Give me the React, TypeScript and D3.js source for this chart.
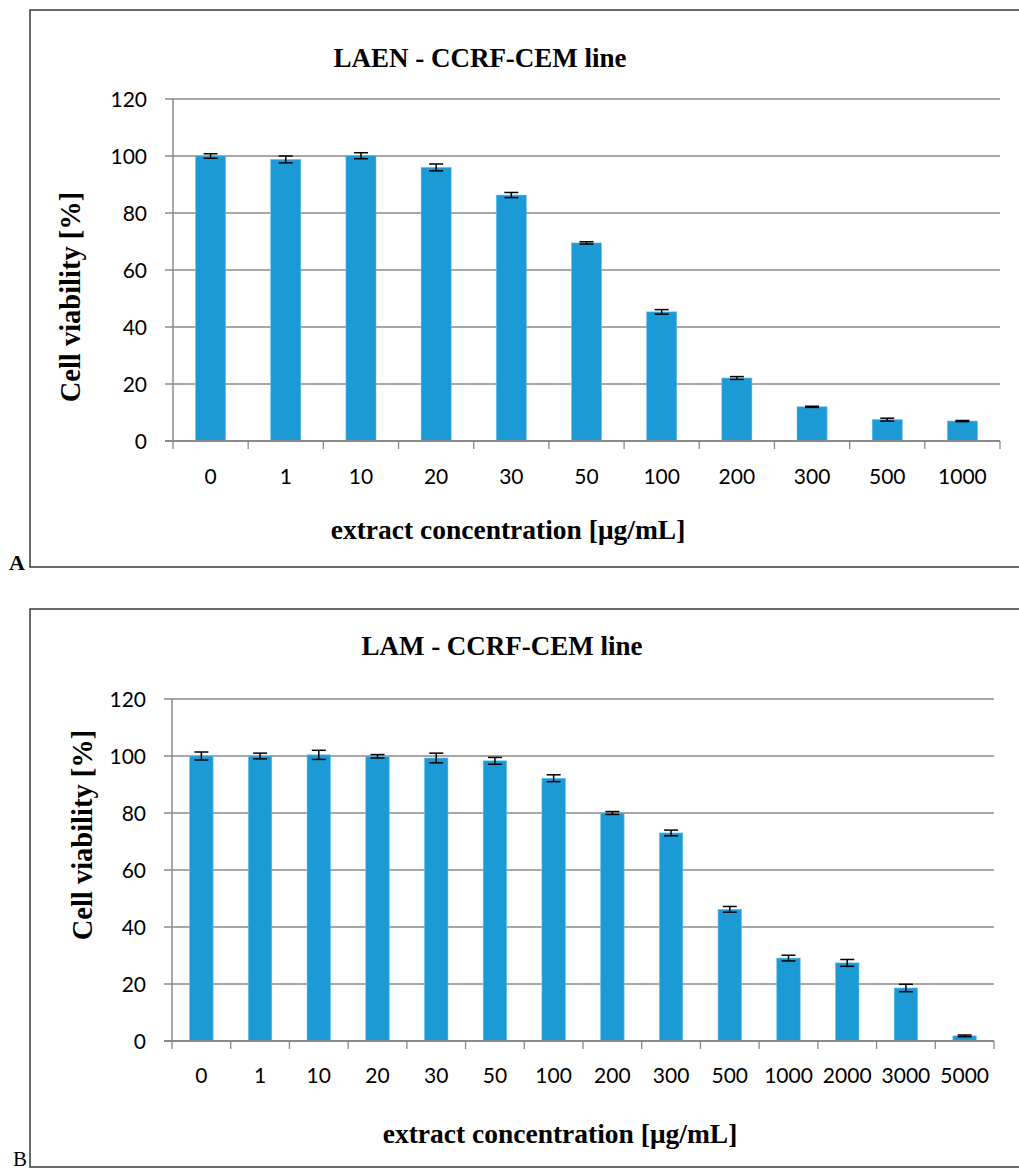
import React from "react";
import * as d3 from "d3";

const catsA = ["0", "1", "10", "20", "30", "50", "100", "200", "300", "500", "1000"];
const valsA = [100, 98.8, 100.1, 96.0, 86.3, 69.5, 45.3, 22.1, 12.0, 7.5, 7.0];
const errsA = [0.8, 1.2, 1.05, 1.2, 0.9, 0.4, 0.8, 0.5, 0.2, 0.5, 0.2];

const catsB = ["0", "1", "10", "20", "30", "50", "100", "200", "300", "500", "1000", "2000", "3000", "5000"];
const valsB = [100, 100, 100.4, 99.9, 99.3, 98.3, 92.2, 80.0, 73.0, 46.2, 29.1, 27.4, 18.6, 1.8];
const errsB = [1.4, 1.0, 1.6, 0.6, 1.7, 1.2, 1.2, 0.5, 1.0, 1.0, 1.0, 1.2, 1.3, 0.3];

const yTicks = [0, 20, 40, 60, 80, 100, 120];

const BAR = "#1c9ad6";
const GRID = "#8a8a8a";
const SERIF = "'Liberation Serif', 'DejaVu Serif', serif";
const SANS = "Lato, 'Open Sans', sans-serif";

type PanelProps = {
  cats: string[];
  vals: number[];
  errs: number[];
  frame: { x: number; y: number; w: number; h: number };
  plot: { left: number; right: number; top: number; bottom: number };
  title: string;
  titleX: number;
  titleY: number;
  xTitleX: number;
  xTitleY: number;
  yTitleX: number;
  yTitleY: number;
  tickLabelY: number;
  letter: string;
  letterX: number;
  letterY: number;
  letterBold: boolean;
};

function Panel(p: PanelProps) {
  const x = d3.scaleBand<string>().domain(p.cats).range([p.plot.left, p.plot.right]).paddingInner(0.6).paddingOuter(0.3);
  const xb = d3.scaleBand<string>().domain(p.cats).range([p.plot.left, p.plot.right]);
  const y = d3.scaleLinear().domain([0, 120]).range([p.plot.bottom, p.plot.top]);
  const capW = 7;
  return (
    <g>
      <rect x={p.frame.x} y={p.frame.y} width={p.frame.w} height={p.frame.h} fill="white" stroke="#3a3a3a" strokeWidth={1.5} />
      {yTicks.map((t) => (
        <g key={t}>
          <line x1={p.plot.left - 8} x2={p.plot.right} y1={y(t)} y2={y(t)} stroke={GRID} strokeWidth={1.3} />
          <text x={p.plot.left - 26} y={y(t) + 7.5} textAnchor="end" fontFamily={SANS} fontSize={21} fill="#000">
            {t}
          </text>
        </g>
      ))}
      <line x1={p.plot.left} x2={p.plot.left} y1={p.plot.top} y2={p.plot.bottom} stroke={GRID} strokeWidth={1.5} />
      {p.cats.map((c, i) => (
        <rect key={c} x={x(c)} y={y(p.vals[i])} width={x.bandwidth()} height={y(0) - y(p.vals[i])} fill={BAR} stroke="#6cc0ea" strokeWidth={0.6} />
      ))}
      {p.cats.map((c, i) => {
        const cx = (x(c) as number) + x.bandwidth() / 2;
        const y1 = y(p.vals[i] + p.errs[i]);
        const y2 = y(p.vals[i] - p.errs[i]);
        return (
          <g key={"e" + c} stroke="#000" strokeWidth={1.5}>
            <line x1={cx} x2={cx} y1={y1} y2={y2} />
            <line x1={cx - capW} x2={cx + capW} y1={y1} y2={y1} />
            <line x1={cx - capW} x2={cx + capW} y1={y2} y2={y2} />
          </g>
        );
      })}
      <line x1={p.plot.left - 8} x2={p.plot.right} y1={p.plot.bottom} y2={p.plot.bottom} stroke={GRID} strokeWidth={1.8} />
      {[...p.cats.map((c) => xb(c) as number), p.plot.right].map((tx, i) => (
        <line key={"t" + i} x1={tx} x2={tx} y1={p.plot.bottom} y2={p.plot.bottom + 8} stroke={GRID} strokeWidth={1.3} />
      ))}
      {p.cats.map((c) => (
        <text key={"l" + c} x={(xb(c) as number) + xb.bandwidth() / 2} y={p.tickLabelY} textAnchor="middle" fontFamily={SANS} fontSize={21} fill="#000">
          {c}
        </text>
      ))}
      <text x={p.titleX} y={p.titleY} textAnchor="middle" fontFamily={SERIF} fontWeight="bold" fontSize={27} fill="#000">
        {p.title}
      </text>
      <text x={p.xTitleX} y={p.xTitleY} textAnchor="middle" fontFamily={SERIF} fontWeight="bold" fontSize={27.5} fill="#000">
        extract concentration [μg/mL]
      </text>
      <text transform={`translate(${p.yTitleX},${p.yTitleY}) rotate(-90)`} textAnchor="middle" fontFamily={SERIF} fontWeight="bold" fontSize={28.5} fill="#000">
        Cell viability [%]
      </text>
      <text x={p.letterX} y={p.letterY} fontFamily={SERIF} fontWeight={p.letterBold ? "bold" : "normal"} fontSize={p.letterBold ? 22 : 21} fill="#000">
        {p.letter}
      </text>
    </g>
  );
}

export default function App() {
  return (
    <svg width={1019} height={1171} style={{ position: "absolute", left: 0, top: 0, background: "white" }}>
      <rect x={0} y={0} width={1019} height={1171} fill="white" />
      <Panel
        cats={catsA}
        vals={valsA}
        errs={errsA}
        frame={{ x: 30, y: 10, w: 995, h: 557 }}
        plot={{ left: 173, right: 1000, top: 99, bottom: 441 }}
        title="LAEN - CCRF-CEM line"
        titleX={480}
        titleY={67}
        xTitleX={508}
        xTitleY={539}
        yTitleX={80}
        yTitleY={297}
        tickLabelY={483.5}
        letter="A"
        letterX={9}
        letterY={570}
        letterBold={true}
      />
      <Panel
        cats={catsB}
        vals={valsB}
        errs={errsB}
        frame={{ x: 30, y: 609, w: 995, h: 558 }}
        plot={{ left: 172, right: 994, top: 699, bottom: 1041 }}
        title="LAM - CCRF-CEM line"
        titleX={502}
        titleY={655}
        xTitleX={560}
        xTitleY={1143}
        yTitleX={92}
        yTitleY={835}
        tickLabelY={1083}
        letter="B"
        letterX={13}
        letterY={1166}
        letterBold={false}
      />
    </svg>
  );
}
